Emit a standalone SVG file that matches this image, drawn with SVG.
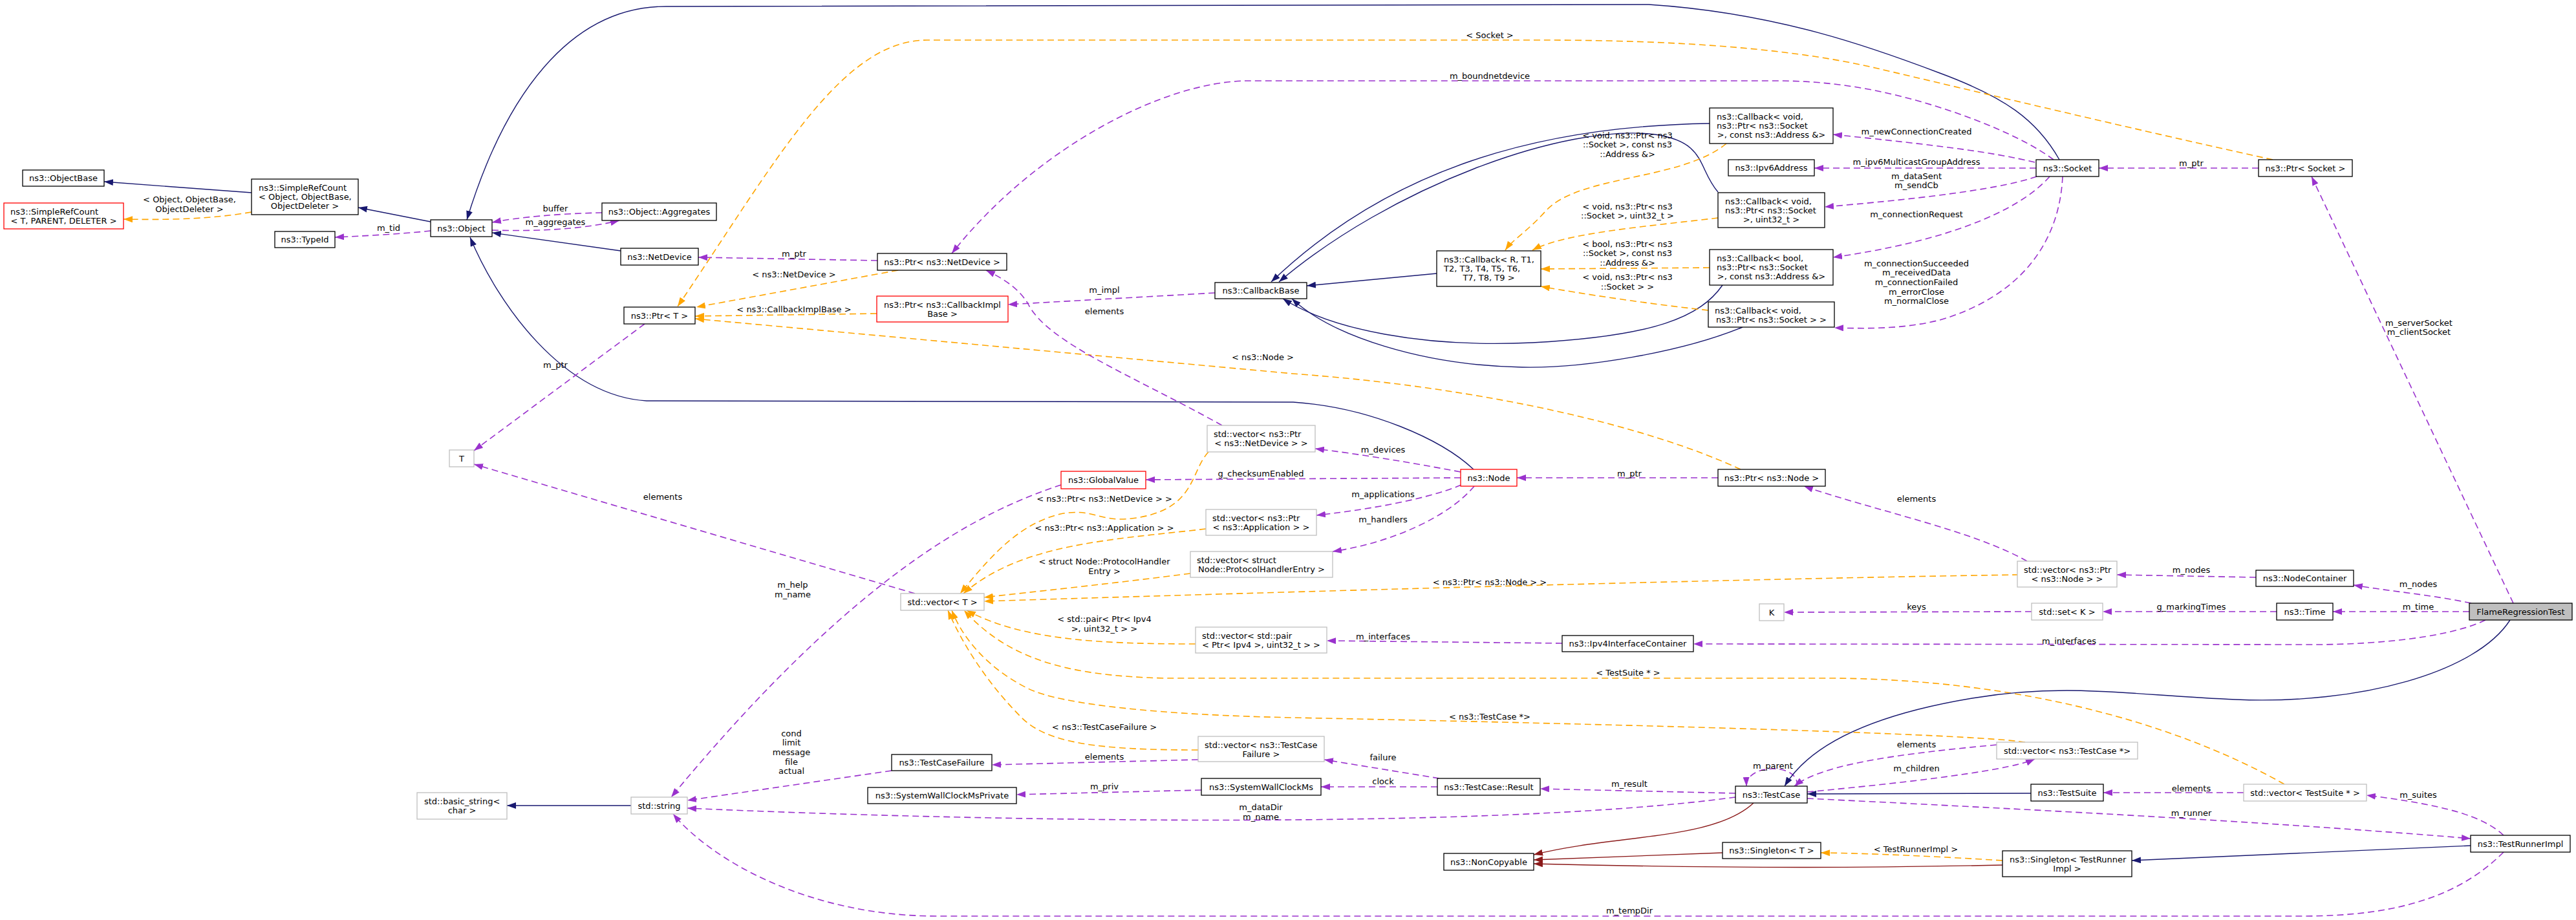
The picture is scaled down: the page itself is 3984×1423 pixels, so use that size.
<svg xmlns="http://www.w3.org/2000/svg" width="3984" height="1423" viewBox="0 0 3984 1423">
<style>
text{font-family:"DejaVu Sans","Liberation Sans",sans-serif;font-size:13px;fill:#000}
.n rect{fill:#fff;stroke:#000;stroke-width:1.3}
.n.g rect{stroke:#bfbfbf}
.n.r rect{stroke:#ff0000}
.n.f rect{fill:#bfbfbf}
.c{text-anchor:middle}
.s{text-anchor:start}
#edges path{fill:none}
.b{stroke:#191970;stroke-width:1.4;marker-end:url(#mb)}
.p{stroke:#9a32cd;stroke-width:1.6;stroke-dasharray:10,6;marker-end:url(#mp)}
.o{stroke:#ffa500;stroke-width:1.6;stroke-dasharray:10,6;marker-end:url(#mo)}
.d{stroke:#8b1a1a;stroke-width:1.4;marker-end:url(#md)}
#labels text{text-anchor:middle}
</style>
<defs>
<marker id="mb" viewBox="0 0 14 10" refX="14" refY="5" markerWidth="14" markerHeight="10" markerUnits="userSpaceOnUse" orient="auto"><path d="M0,0 L14,5 L0,10 z" fill="#191970"/></marker>
<marker id="mp" viewBox="0 0 14 10" refX="14" refY="5" markerWidth="14" markerHeight="10" markerUnits="userSpaceOnUse" orient="auto"><path d="M0,0 L14,5 L0,10 z" fill="#9a32cd"/></marker>
<marker id="mo" viewBox="0 0 14 10" refX="14" refY="5" markerWidth="14" markerHeight="10" markerUnits="userSpaceOnUse" orient="auto"><path d="M0,0 L14,5 L0,10 z" fill="#ffa500"/></marker>
<marker id="md" viewBox="0 0 14 10" refX="14" refY="5" markerWidth="14" markerHeight="10" markerUnits="userSpaceOnUse" orient="auto"><path d="M0,0 L14,5 L0,10 z" fill="#8b1a1a"/></marker>
</defs>
<rect width="3984" height="1423" fill="#fff"/>
<g id="edges">
<path class="b" d="M389,298 L161,281"/>
<path class="o" d="M389,328 C320,340 250,340 191,339"/>
<path class="b" d="M666,343 L554,321"/>
<path class="p" d="M666,357 C620,362 560,365 518,367"/>
<path class="p" d="M931,329 C870,330 800,336 761,344"/>
<path class="p" d="M761,356 C830,358 900,355 958,341"/>
<path class="b" d="M960,388 L761,360"/>
<path class="b" d="M3185,247 C3150,185 3100,150 3000,113 C2900,75 2750,20 2550,7 L1030,10 C880,10 780,150 722,340"/>
<path class="b" d="M2279,726 C2230,680 2120,630 2000,622 L1000,620 C870,612 770,470 727,367"/>
<path class="p" d="M1357,403 L1080,398"/>
<path class="p" d="M3176,247 C3120,205 3000,160 2900,140 C2850,130 2800,125 2750,125 L1931,125 C1800,125 1600,230 1472,392"/>
<path class="o" d="M3515,247 C3300,200 3050,140 2900,105 C2750,70 2550,62 2383,62 L1434,62 C1300,62 1200,250 1048,474"/>
<path class="o" d="M1389,418 L1077,475"/>
<path class="o" d="M1356,485 L1075,489"/>
<path class="o" d="M2692,726 C2550,660 2300,600 2000,578 L1075,493"/>
<path class="p" d="M1879,453 L1559,471"/>
<path class="p" d="M1890,658 C1750,580 1620,530 1590,470 C1575,445 1550,430 1525,418"/>
<path class="b" d="M2222,423 L2021,442"/>
<path class="b" d="M2644,191 C2380,195 2150,260 1966,436"/>
<path class="b" d="M2657,297 C2625,260 2640,220 2560,208 C2420,190 2150,290 1978,436"/>
<path class="b" d="M2664,441 C2630,490 2560,520 2370,530 C2200,538 2060,510 1984,462"/>
<path class="b" d="M2695,506 C2600,545 2450,570 2354,568 C2200,565 2060,520 1998,462"/>
<path class="o" d="M2670,222 C2600,280 2440,270 2390,327 C2360,360 2340,370 2328,387"/>
<path class="o" d="M2657,337 C2550,350 2420,360 2370,387"/>
<path class="o" d="M2644,414 L2383,416"/>
<path class="o" d="M2642,480 C2550,470 2450,455 2383,443"/>
<path class="p" d="M3147,251 C3080,235 3000,225 2835,208"/>
<path class="p" d="M3149,260 L2806,260"/>
<path class="p" d="M3150,273 C3100,290 3000,305 2822,320"/>
<path class="p" d="M3170,273 C3120,330 3000,375 2835,398"/>
<path class="p" d="M3190,273 C3185,380 3120,460 3000,495 C2940,510 2880,508 2837,507"/>
<path class="p" d="M3493,260 L3246,260"/>
<path class="p" d="M3887,933 L3575,273"/>
<path class="p" d="M2259,730 C2180,715 2100,702 2034,694"/>
<path class="p" d="M2259,739 L1772,742"/>
<path class="p" d="M2260,750 C2200,775 2100,790 2036,797"/>
<path class="p" d="M2280,752 C2240,800 2150,840 2061,853"/>
<path class="p" d="M2657,739 L2346,739"/>
<path class="p" d="M3135,868 C3050,820 2900,790 2790,752"/>
<path class="p" d="M1415,918 L733,718"/>
<path class="p" d="M997,501 L733,697"/>
<path class="o" d="M1869,699 C1840,730 1850,790 1750,802 C1700,808 1690,785 1640,795 C1580,810 1540,850 1485,918"/>
<path class="o" d="M1865,818 C1720,835 1580,840 1490,918"/>
<path class="o" d="M1841,887 C1700,905 1600,915 1522,924"/>
<path class="o" d="M3122,889 C2700,895 2000,915 1522,930"/>
<path class="o" d="M1849,996 C1700,996 1580,990 1495,944"/>
<path class="o" d="M3533,1213 C3350,1110 3100,1050 2829,1049 L1800,1049 C1650,1045 1560,1020 1491,944"/>
<path class="o" d="M3132,1148 C3050,1135 2500,1120 2000,1110 C1800,1106 1640,1090 1590,1065 C1530,1035 1490,990 1472,944"/>
<path class="o" d="M1853,1160 C1700,1160 1620,1150 1580,1110 C1530,1060 1490,1000 1466,944"/>
<path class="p" d="M1641,750 C1520,790 1330,880 1038,1233"/>
<path class="p" d="M1379,1192 L1063,1238"/>
<path class="p" d="M2684,1233 C2300,1285 1500,1270 1063,1250"/>
<path class="p" d="M3872,1318 C3800,1390 3700,1417 3560,1417 L1450,1417 C1250,1417 1100,1330 1041,1259"/>
<path class="b" d="M976,1246 L784,1246"/>
<path class="p" d="M1853,1175 L1534,1183"/>
<path class="p" d="M1858,1222 L1572,1229"/>
<path class="p" d="M2226,1204 L2048,1175"/>
<path class="p" d="M2223,1217 L2043,1217"/>
<path class="p" d="M2684,1227 L2382,1220"/>
<path class="p" d="M2779,1216 C2785,1180 2700,1180 2701,1216"/>
<path class="p" d="M3088,1152 C2950,1165 2820,1180 2775,1216"/>
<path class="p" d="M2795,1225 C2900,1215 3100,1195 3147,1174"/>
<path class="b" d="M3141,1227 L2795,1228"/>
<path class="b" d="M3882,959 C3830,1040 3650,1090 3458,1082 C3300,1076 3200,1055 3050,1080 C2900,1105 2800,1150 2760,1216"/>
<path class="p" d="M3470,1226 L3253,1226"/>
<path class="p" d="M2795,1235 C3100,1250 3500,1270 3821,1297"/>
<path class="p" d="M3872,1292 C3840,1262 3780,1245 3660,1230"/>
<path class="b" d="M3821,1308 L3297,1331"/>
<path class="o" d="M3097,1331 C3000,1325 2900,1320 2816,1319"/>
<path class="d" d="M2712,1242 C2650,1300 2500,1290 2372,1322"/>
<path class="d" d="M2664,1319 L2372,1330"/>
<path class="d" d="M3097,1338 C2900,1342 2700,1344 2372,1336"/>
<path class="p" d="M3489,893 L3274,889"/>
<path class="p" d="M3822,933 C3760,920 3700,915 3640,905"/>
<path class="p" d="M3819,946 L3608,946"/>
<path class="p" d="M3521,946 L3252,946"/>
<path class="p" d="M3142,946 L2759,947"/>
<path class="p" d="M3844,959 C3780,990 3650,997 3580,997 L2619,996"/>
<path class="p" d="M2416,995 L2052,991"/>
</g>
<g id="labels">
<text x="293" y="312.5">&lt; Object, ObjectBase,</text>
<text x="293" y="327.5">ObjectDeleter &gt;</text>
<text x="601" y="356.5">m_tid</text>
<text x="859" y="326.5">buffer</text>
<text x="859" y="347.5">m_aggregates</text>
<text x="2304" y="58.5">&lt; Socket &gt;</text>
<text x="2304" y="121.5">m_boundnetdevice</text>
<text x="1228" y="396.5">m_ptr</text>
<text x="1228" y="428.5">&lt; ns3::NetDevice &gt;</text>
<text x="1228" y="482.5">&lt; ns3::CallbackImplBase &gt;</text>
<text x="1708" y="452.5">m_impl</text>
<text x="1708" y="485.5">elements</text>
<text x="1953" y="556.5">&lt; ns3::Node &gt;</text>
<text x="2517" y="213.5">&lt; void, ns3::Ptr&lt; ns3</text>
<text x="2517" y="228">::Socket &gt;, const ns3</text>
<text x="2517" y="243">::Address &amp;&gt;</text>
<text x="2517" y="323.5">&lt; void, ns3::Ptr&lt; ns3</text>
<text x="2517" y="337.5">::Socket &gt;, uint32_t &gt;</text>
<text x="2517" y="381.5">&lt; bool, ns3::Ptr&lt; ns3</text>
<text x="2517" y="396">::Socket &gt;, const ns3</text>
<text x="2517" y="410.5">::Address &amp;&gt;</text>
<text x="2517" y="432.5">&lt; void, ns3::Ptr&lt; ns3</text>
<text x="2517" y="447.5">::Socket &gt; &gt;</text>
<text x="2964" y="207.5">m_newConnectionCreated</text>
<text x="2964" y="254.5">m_ipv6MulticastGroupAddress</text>
<text x="2964" y="276.5">m_dataSent</text>
<text x="2964" y="291">m_sendCb</text>
<text x="2964" y="335.5">m_connectionRequest</text>
<text x="2964" y="411.5">m_connectionSucceeded</text>
<text x="2964" y="425.5">m_receivedData</text>
<text x="2964" y="440.5">m_connectionFailed</text>
<text x="2964" y="455.5">m_errorClose</text>
<text x="2964" y="469.5">m_normalClose</text>
<text x="3389" y="256.5">m_ptr</text>
<text x="3741" y="503.5">m_serverSocket</text>
<text x="3741" y="517.5">m_clientSocket</text>
<text x="859" y="568.5">m_ptr</text>
<text x="1025" y="772.5">elements</text>
<text x="2139" y="699.5">m_devices</text>
<text x="1950" y="736.5">g_checksumEnabled</text>
<text x="2139" y="768.5">m_applications</text>
<text x="2139" y="807.5">m_handlers</text>
<text x="2520" y="736.5">m_ptr</text>
<text x="2964" y="775.5">elements</text>
<text x="1708" y="775.5">&lt; ns3::Ptr&lt; ns3::NetDevice &gt; &gt;</text>
<text x="1708" y="820.5">&lt; ns3::Ptr&lt; ns3::Application &gt; &gt;</text>
<text x="1708" y="872.5">&lt; struct Node::ProtocolHandler</text>
<text x="1708" y="887.5">Entry &gt;</text>
<text x="1226" y="908.5">m_help</text>
<text x="1226" y="923.5">m_name</text>
<text x="2304" y="904.5">&lt; ns3::Ptr&lt; ns3::Node &gt; &gt;</text>
<text x="3389" y="885.5">m_nodes</text>
<text x="3740" y="907.5">m_nodes</text>
<text x="2964" y="942.5">keys</text>
<text x="3389" y="942.5">g_markingTimes</text>
<text x="3740" y="942.5">m_time</text>
<text x="1708" y="961.5">&lt; std::pair&lt; Ptr&lt; Ipv4</text>
<text x="1708" y="976.5">&gt;, uint32_t &gt; &gt;</text>
<text x="2139" y="988.5">m_interfaces</text>
<text x="3200" y="995.5">m_interfaces</text>
<text x="2518" y="1044.5">&lt; TestSuite * &gt;</text>
<text x="2304" y="1112.5">&lt; ns3::TestCase *&gt;</text>
<text x="1708" y="1128.5">&lt; ns3::TestCaseFailure &gt;</text>
<text x="1224" y="1138.5">cond</text>
<text x="1224" y="1152.5">limit</text>
<text x="1224" y="1167.5">message</text>
<text x="1224" y="1182.5">file</text>
<text x="1224" y="1196.5">actual</text>
<text x="1708" y="1174.5">elements</text>
<text x="2139" y="1175.5">failure</text>
<text x="2742" y="1188.5">m_parent</text>
<text x="2964" y="1155.5">elements</text>
<text x="2964" y="1192.5">m_children</text>
<text x="1708" y="1220.5">m_priv</text>
<text x="2139" y="1212.5">clock</text>
<text x="2520" y="1216.5">m_result</text>
<text x="3389" y="1223.5">elements</text>
<text x="3740" y="1233.5">m_suites</text>
<text x="1950" y="1252.5">m_dataDir</text>
<text x="1950" y="1267.5">m_name</text>
<text x="3389" y="1261.5">m_runner</text>
<text x="2963" y="1317.5">&lt; TestRunnerImpl &gt;</text>
<text x="2520" y="1412.5">m_tempDir</text>
</g>
<g id="n_ObjectBase" class="n"><rect x="35" y="263" width="126" height="25"/><text class="c" x="98" y="280">ns3::ObjectBase</text></g>
<g id="n_SimpleRefCount_T" class="n r"><rect x="6" y="314" width="185" height="40"/><text class="s" x="16" y="331.5">ns3::SimpleRefCount</text><text class="c" x="98.5" y="345.8">&lt; T, PARENT, DELETER &gt;</text></g>
<g id="n_SimpleRefCount_Object" class="n"><rect x="389" y="277" width="165" height="55"/><text class="s" x="400" y="294.5">ns3::SimpleRefCount</text><text class="s" x="400" y="308.8">&lt; Object, ObjectBase,</text><text class="c" x="471.5" y="323.1">ObjectDeleter &gt;</text></g>
<g id="n_TypeId" class="n"><rect x="425" y="358" width="93" height="25"/><text class="c" x="471.5" y="375">ns3::TypeId</text></g>
<g id="n_Object" class="n"><rect x="666" y="340" width="95" height="26"/><text class="c" x="713.5" y="357.5">ns3::Object</text></g>
<g id="n_Aggregates" class="n"><rect x="931" y="314" width="177" height="27"/><text class="c" x="1019.5" y="332">ns3::Object::Aggregates</text></g>
<g id="n_NetDevice" class="n"><rect x="960" y="384" width="120" height="26"/><text class="c" x="1020" y="401.5">ns3::NetDevice</text></g>
<g id="n_PtrT" class="n"><rect x="965" y="475" width="110" height="26"/><text class="c" x="1020" y="492.5">ns3::Ptr&lt; T &gt;</text></g>
<g id="n_T" class="n g"><rect x="695" y="696" width="38" height="26"/><text class="c" x="714" y="713.5">T</text></g>
<g id="n_basic_string" class="n g"><rect x="645" y="1226" width="139" height="41"/><text class="s" x="656" y="1243.5">std::basic_string&lt;</text><text class="c" x="714.5" y="1257.8">char &gt;</text></g>
<g id="n_string" class="n g"><rect x="976" y="1233" width="87" height="26"/><text class="c" x="1019.5" y="1250.5">std::string</text></g>
<g id="n_PtrNetDevice" class="n"><rect x="1357" y="392" width="200" height="26"/><text class="c" x="1457" y="409.5">ns3::Ptr&lt; ns3::NetDevice &gt;</text></g>
<g id="n_PtrCallbackImplBase" class="n r"><rect x="1356" y="458" width="203" height="40"/><text class="s" x="1367" y="475.5">ns3::Ptr&lt; ns3::CallbackImpl</text><text class="c" x="1457.5" y="489.8">Base &gt;</text></g>
<g id="n_CallbackBase" class="n"><rect x="1879" y="437" width="142" height="25"/><text class="c" x="1950" y="454">ns3::CallbackBase</text></g>
<g id="n_Callback_void_Address" class="n"><rect x="2644" y="167" width="191" height="55"/><text class="s" x="2655" y="184.5">ns3::Callback&lt; void,</text><text class="s" x="2655" y="198.8">ns3::Ptr&lt; ns3::Socket</text><text class="c" x="2739.5" y="213.1">&gt;, const ns3::Address &amp;&gt;</text></g>
<g id="n_Ipv6Address" class="n"><rect x="2673" y="247" width="133" height="25"/><text class="c" x="2739.5" y="264">ns3::Ipv6Address</text></g>
<g id="n_Callback_void_uint32" class="n"><rect x="2657" y="298" width="165" height="54"/><text class="s" x="2668" y="315.5">ns3::Callback&lt; void,</text><text class="s" x="2668" y="329.8">ns3::Ptr&lt; ns3::Socket</text><text class="c" x="2739.5" y="344.1">&gt;, uint32_t &gt;</text></g>
<g id="n_Callback_R" class="n"><rect x="2222" y="388" width="161" height="55"/><text class="s" x="2233" y="405.5">ns3::Callback&lt; R, T1,</text><text class="s" x="2233" y="419.8">T2, T3, T4, T5, T6,</text><text class="c" x="2302.5" y="434.1">T7, T8, T9 &gt;</text></g>
<g id="n_Callback_bool" class="n"><rect x="2644" y="386" width="191" height="55"/><text class="s" x="2655" y="403.5">ns3::Callback&lt; bool,</text><text class="s" x="2655" y="417.8">ns3::Ptr&lt; ns3::Socket</text><text class="c" x="2739.5" y="432.1">&gt;, const ns3::Address &amp;&gt;</text></g>
<g id="n_Callback_void_Socket" class="n"><rect x="2642" y="467" width="195" height="39"/><text class="s" x="2652" y="484.5">ns3::Callback&lt; void,</text><text class="c" x="2739.5" y="498.8">ns3::Ptr&lt; ns3::Socket &gt; &gt;</text></g>
<g id="n_Socket" class="n"><rect x="3149" y="247" width="97" height="26"/><text class="c" x="3197.5" y="264.5">ns3::Socket</text></g>
<g id="n_PtrSocket" class="n"><rect x="3493" y="247" width="145" height="26"/><text class="c" x="3565.5" y="264.5">ns3::Ptr&lt; Socket &gt;</text></g>
<g id="n_vecPtrNetDevice" class="n g"><rect x="1867" y="658" width="167" height="41"/><text class="s" x="1877" y="675.5">std::vector&lt; ns3::Ptr</text><text class="c" x="1950.5" y="689.8">&lt; ns3::NetDevice &gt; &gt;</text></g>
<g id="n_GlobalValue" class="n r"><rect x="1641" y="729" width="131" height="27"/><text class="c" x="1706.5" y="747">ns3::GlobalValue</text></g>
<g id="n_vecPtrApplication" class="n g"><rect x="1865" y="788" width="171" height="40"/><text class="s" x="1875" y="805.5">std::vector&lt; ns3::Ptr</text><text class="c" x="1950.5" y="819.8">&lt; ns3::Application &gt; &gt;</text></g>
<g id="n_vecProtocolHandlerEntry" class="n g"><rect x="1841" y="853" width="220" height="40"/><text class="s" x="1851" y="870.5">std::vector&lt; struct</text><text class="c" x="1951" y="884.8">Node::ProtocolHandlerEntry &gt;</text></g>
<g id="n_vecT" class="n g"><rect x="1393" y="918" width="129" height="26"/><text class="c" x="1457.5" y="935.5">std::vector&lt; T &gt;</text></g>
<g id="n_Node" class="n r"><rect x="2259" y="726" width="87" height="26"/><text class="c" x="2302.5" y="743.5">ns3::Node</text></g>
<g id="n_PtrNode" class="n"><rect x="2657" y="726" width="166" height="26"/><text class="c" x="2740" y="743.5">ns3::Ptr&lt; ns3::Node &gt;</text></g>
<g id="n_K" class="n g"><rect x="2721" y="934" width="38" height="26"/><text class="c" x="2740" y="951.5">K</text></g>
<g id="n_vecPtrNode" class="n g"><rect x="3120" y="868" width="154" height="40"/><text class="s" x="3130" y="885.5">std::vector&lt; ns3::Ptr</text><text class="c" x="3197" y="899.8">&lt; ns3::Node &gt; &gt;</text></g>
<g id="n_NodeContainer" class="n"><rect x="3489" y="882" width="151" height="25"/><text class="c" x="3564.5" y="899">ns3::NodeContainer</text></g>
<g id="n_setK" class="n g"><rect x="3142" y="933" width="110" height="26"/><text class="c" x="3197" y="950.5">std::set&lt; K &gt;</text></g>
<g id="n_Time" class="n"><rect x="3521" y="933" width="87" height="26"/><text class="c" x="3564.5" y="950.5">ns3::Time</text></g>
<g id="n_FlameRegressionTest" class="n f"><rect x="3819" y="933" width="159" height="26"/><text class="c" x="3898.5" y="950.5">FlameRegressionTest</text></g>
<g id="n_vecPair" class="n g"><rect x="1849" y="970" width="203" height="40"/><text class="s" x="1859" y="987.5">std::vector&lt; std::pair</text><text class="c" x="1950.5" y="1001.8">&lt; Ptr&lt; Ipv4 &gt;, uint32_t &gt; &gt;</text></g>
<g id="n_vecTestCaseFailure" class="n g"><rect x="1853" y="1139" width="195" height="39"/><text class="s" x="1863" y="1156.5">std::vector&lt; ns3::TestCase</text><text class="c" x="1950.5" y="1170.8">Failure &gt;</text></g>
<g id="n_TestCaseFailure" class="n"><rect x="1379" y="1167" width="155" height="25"/><text class="c" x="1456.5" y="1184">ns3::TestCaseFailure</text></g>
<g id="n_SystemWallClockMsPrivate" class="n"><rect x="1342" y="1218" width="230" height="25"/><text class="c" x="1457" y="1235">ns3::SystemWallClockMsPrivate</text></g>
<g id="n_SystemWallClockMs" class="n"><rect x="1858" y="1204" width="185" height="26"/><text class="c" x="1950.5" y="1221.5">ns3::SystemWallClockMs</text></g>
<g id="n_Ipv4InterfaceContainer" class="n"><rect x="2416" y="983" width="203" height="25"/><text class="c" x="2517.5" y="1000">ns3::Ipv4InterfaceContainer</text></g>
<g id="n_TestCaseResult" class="n"><rect x="2223" y="1204" width="159" height="26"/><text class="c" x="2302.5" y="1221.5">ns3::TestCase::Result</text></g>
<g id="n_TestCase" class="n"><rect x="2684" y="1216" width="111" height="26"/><text class="c" x="2739.5" y="1233.5">ns3::TestCase</text></g>
<g id="n_NonCopyable" class="n"><rect x="2233" y="1320" width="139" height="26"/><text class="c" x="2302.5" y="1337.5">ns3::NonCopyable</text></g>
<g id="n_SingletonT" class="n"><rect x="2664" y="1303" width="152" height="25"/><text class="c" x="2740" y="1320">ns3::Singleton&lt; T &gt;</text></g>
<g id="n_vecTestCase" class="n g"><rect x="3088" y="1148" width="218" height="26"/><text class="c" x="3197" y="1165.5">std::vector&lt; ns3::TestCase *&gt;</text></g>
<g id="n_TestSuite" class="n"><rect x="3141" y="1213" width="112" height="26"/><text class="c" x="3197" y="1230.5">ns3::TestSuite</text></g>
<g id="n_vecTestSuite" class="n g"><rect x="3470" y="1213" width="190" height="26"/><text class="c" x="3565" y="1230.5">std::vector&lt; TestSuite * &gt;</text></g>
<g id="n_TestRunnerImpl" class="n"><rect x="3821" y="1292" width="154" height="26"/><text class="c" x="3898" y="1309.5">ns3::TestRunnerImpl</text></g>
<g id="n_SingletonTestRunnerImpl" class="n"><rect x="3097" y="1316" width="200" height="40"/><text class="s" x="3108" y="1333.5">ns3::Singleton&lt; TestRunner</text><text class="c" x="3197" y="1347.8">Impl &gt;</text></g>
</svg>
